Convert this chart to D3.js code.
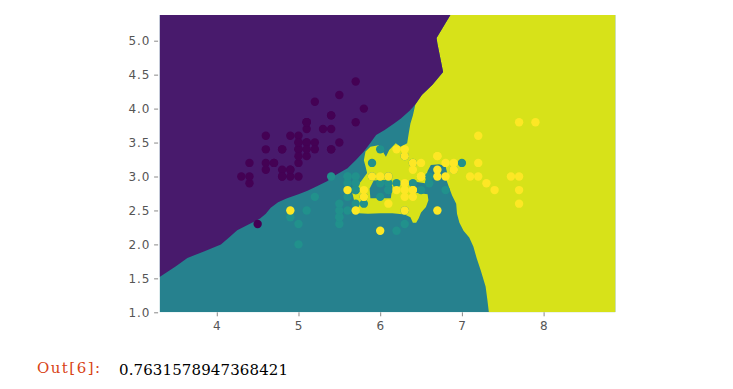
<!DOCTYPE html>
<html>
<head>
<meta charset="utf-8">
<script src="https://cdn.jsdelivr.net/npm/d3@7/dist/d3.min.js"></script>
<style>
  body { margin: 0; background: #fff; }
</style>
</head>
<body>
<svg id="chart" width="733" height="389"></svg>
<script>

// iris sepal length / width, one pair of arrays per class
const setosaLength = [5.1,4.9,4.7,4.6,5.0,5.4,4.6,5.0,4.4,4.9,5.4,4.8,4.8,4.3,5.8,5.7,5.4,5.1,5.7,5.1,5.4,5.1,4.6,5.1,4.8,5.0,5.0,5.2,5.2,4.7,4.8,5.4,5.2,5.5,4.9,5.0,5.5,4.9,4.4,5.1,5.0,4.5,4.4,5.0,5.1,4.8,5.1,4.6,5.3,5.0];
const setosaWidth = [3.5,3.0,3.2,3.1,3.6,3.9,3.4,3.4,2.9,3.1,3.7,3.4,3.0,3.0,4.0,4.4,3.9,3.5,3.8,3.8,3.4,3.7,3.6,3.3,3.4,3.0,3.4,3.5,3.4,3.2,3.1,3.4,4.1,4.2,3.1,3.2,3.5,3.6,3.0,3.4,3.5,2.3,3.2,3.5,3.8,3.0,3.8,3.2,3.7,3.3];
const versicolorLength = [7.0,6.4,6.9,5.5,6.5,5.7,6.3,4.9,6.6,5.2,5.0,5.9,6.0,6.1,5.6,6.7,5.6,5.8,6.2,5.6,5.9,6.1,6.3,6.1,6.4,6.6,6.8,6.7,6.0,5.7,5.5,5.5,5.8,6.0,5.4,6.0,6.7,6.3,5.6,5.5,5.5,6.1,5.8,5.0,5.6,5.7,5.7,6.2,5.1,5.7];
const versicolorWidth = [3.2,3.2,3.1,2.3,2.8,2.8,3.3,2.4,2.9,2.7,2.0,3.0,2.2,2.9,2.9,3.1,3.0,2.7,2.2,2.5,3.2,2.8,2.5,2.8,2.9,3.0,2.8,3.0,2.9,2.6,2.4,2.4,2.7,2.7,3.0,3.4,3.1,2.3,3.0,2.5,2.6,3.0,2.6,2.3,2.7,3.0,2.9,2.9,2.5,2.8];
const virginicaLength = [6.3,5.8,7.1,6.3,6.5,7.6,4.9,7.3,6.7,7.2,6.5,6.4,6.8,5.7,5.8,6.4,6.5,7.7,7.7,6.0,6.9,5.6,7.7,6.3,6.7,7.2,6.2,6.1,6.4,7.2,7.4,7.9,6.4,6.3,6.1,7.7,6.3,6.4,6.0,6.9,6.7,6.9,5.8,6.8,6.7,6.7,6.3,6.5,6.2,5.9];
const virginicaWidth = [3.3,2.7,3.0,2.9,3.0,3.0,2.5,2.9,2.5,3.6,3.2,2.7,3.0,2.5,2.8,3.2,3.0,3.8,2.6,2.2,3.2,2.8,2.8,2.7,3.3,3.2,2.8,3.0,2.8,3.0,2.8,3.8,2.8,2.8,2.6,3.0,3.4,3.1,3.0,3.1,3.1,3.1,2.7,3.2,3.3,3.0,2.5,3.0,3.4,3.0];

// decision regions of the classifier (data units)
const purpleRegion = [
  [3.3,5.38],[6.86,5.38],[6.76,5.18],[6.69,5.04],[6.70,4.96],[6.74,4.72],[6.77,4.54],
  [6.64,4.35],[6.51,4.20],[6.43,4.06],[6.36,3.97],[6.25,3.85],[6.17,3.78],[6.05,3.68],
  [5.95,3.61],[5.87,3.48],[5.80,3.37],[5.70,3.24],[5.60,3.12],[5.45,3.02],[5.35,2.93],
  [5.20,2.84],[5.11,2.79],[5.00,2.74],[4.86,2.68],[4.75,2.62],[4.66,2.54],[4.60,2.45],
  [4.53,2.38],[4.40,2.30],[4.25,2.21],[4.15,2.10],[4.05,2.00],[3.85,1.90],[3.64,1.80],
  [3.50,1.68],[3.3,1.52]
];
const yellowRegion = [
  [6.86,5.38],[8.88,5.38],[8.88,1.0],[7.33,1.0],[7.31,1.20],[7.29,1.38],[7.23,1.62],
  [7.18,1.80],[7.14,1.97],[7.09,2.10],[7.02,2.20],[6.97,2.32],[6.94,2.45],[6.93,2.60],
  [6.88,2.72],[6.84,2.85],[6.81,2.95],[6.82,3.05],[6.80,3.15],[6.72,3.18],[6.62,3.17],
  [6.58,3.08],[6.56,2.98],[6.55,2.90],[6.45,2.92],[6.41,2.85],[6.44,2.76],[6.58,2.74],
  [6.59,2.65],[6.56,2.55],[6.50,2.47],[6.47,2.38],[6.44,2.32],[6.40,2.32],[6.37,2.40],
  [6.30,2.44],[6.15,2.46],[6.00,2.46],[5.85,2.45],[5.74,2.46],[5.70,2.55],[5.68,2.65],
  [5.66,2.75],[5.70,2.86],[5.76,2.92],[5.84,3.05],[5.82,3.15],[5.80,3.24],[5.82,3.37],
  [5.88,3.44],[5.98,3.46],[6.02,3.39],[6.07,3.29],[6.11,3.39],[6.19,3.49],[6.25,3.44],
  [6.33,3.49],[6.35,3.64],[6.37,3.78],[6.40,3.90],[6.43,4.06],[6.51,4.20],[6.64,4.35],
  [6.77,4.54],[6.74,4.72],[6.70,4.96],[6.69,5.04],[6.76,5.18]
];
const tealHole = [
  [5.88,2.68],[6.13,2.68],[6.15,2.85],[6.10,2.95],[5.92,2.94],[5.87,2.82]
];

const xTicks = [4, 5, 6, 7, 8];
const yTicks = [1.0, 1.5, 2.0, 2.5, 3.0, 3.5, 4.0, 4.5, 5.0];
const scoreText = '0.7631578947368421';

// region colours (background mesh) and point colours
const bgPurple = '#481a6c', bgTeal = '#26818e', bgYellow = '#d7e219';
const ptColour = ['#440154', '#21918c', '#fde725'];

const svg = d3.select('#chart');

let x = d3.scaleLinear().domain([3.3, 8.88]).range([159.6, 615.5]);
let y = d3.scaleLinear().domain([1.0, 5.38]).range([312.3, 14.9]);

svg.append('clipPath').attr('id', 'plotclip')
  .append('rect')
  .attr('x', x(3.3)).attr('y', y(5.38))
  .attr('width', x(8.88) - x(3.3)).attr('height', y(1.0) - y(5.38));

const plot = svg.append('g').attr('clip-path', 'url(#plotclip)');

// teal everywhere, then the other regions on top
plot.append('rect')
  .attr('x', x(3.3)).attr('y', y(5.38))
  .attr('width', x(8.88) - x(3.3)).attr('height', y(1.0) - y(5.38))
  .attr('fill', bgTeal);

const area = d3.line().x(d => x(d[0])).y(d => y(d[1]));

plot.append('path').attr('d', area(yellowRegion) + 'Z').attr('fill', bgYellow);
plot.append('path').attr('d', area(tealHole) + 'Z').attr('fill', bgTeal);
plot.append('path').attr('d', area(purpleRegion) + 'Z').attr('fill', bgPurple);

// scatter, drawn in dataset order like matplotlib does
let points = [];
setosaLength.forEach((v, i) => points.push({ sl: v, sw: setosaWidth[i], c: 0 }));
versicolorLength.forEach((v, i) => points.push({ sl: v, sw: versicolorWidth[i], c: 1 }));
virginicaLength.forEach((v, i) => points.push({ sl: v, sw: virginicaWidth[i], c: 2 }));

plot.selectAll('circle.pt')
  .data(points)
  .join('circle')
  .attr('class', 'pt')
  .attr('cx', d => x(d.sl))
  .attr('cy', d => y(d.sw))
  .attr('r', 4.2)
  .attr('fill', d => ptColour[d.c]);

// axes
const xAxis = svg.append('g')
  .attr('transform', `translate(0,${y(1.0)})`)
  .call(d3.axisBottom(x).tickValues(xTicks).tickFormat(d3.format('d')).tickSize(4).tickPadding(5));

const yAxis = svg.append('g')
  .attr('transform', `translate(${x(3.3) - 1.5},0)`)
  .call(d3.axisLeft(y).tickValues(yTicks).tickFormat(d3.format('.1f')).tickSize(4).tickPadding(4));

[xAxis, yAxis].forEach(g => {
  g.select('.domain').remove();
  g.selectAll('.tick line').attr('stroke', '#888').attr('stroke-width', 1);
  g.selectAll('.tick text')
    .attr('fill', '#555')
    .style('font-family', '"DejaVu Sans", sans-serif')
    .style('font-size', '12px')
    .style('letter-spacing', '0.8px');
});

// notebook output line underneath
svg.append('text')
  .attr('x', 37).attr('y', 373)
  .attr('fill', '#d84315')
  .attr('textLength', 63).attr('lengthAdjust', 'spacing')
  .style('font-family', '"DejaVu Serif", serif')
  .style('font-size', '15px')
  .text('Out[6]:');

svg.append('text')
  .attr('x', 119).attr('y', 375)
  .attr('fill', '#000')
  .attr('textLength', 169).attr('lengthAdjust', 'spacing')
  .style('font-family', '"DejaVu Serif", serif')
  .style('font-size', '15px')
  .text(scoreText);

</script>
</body>
</html>
